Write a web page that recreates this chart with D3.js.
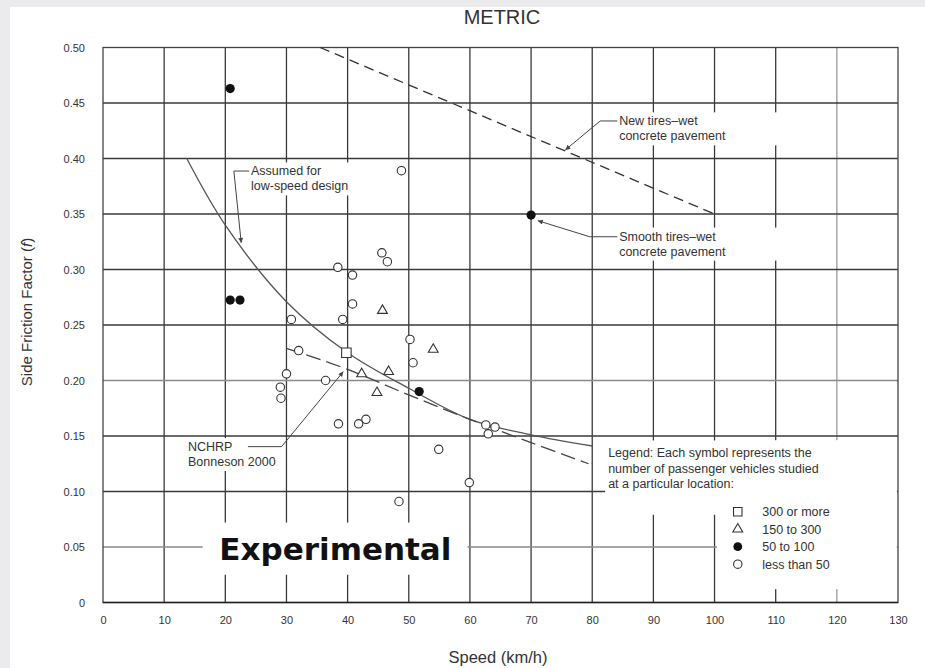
<!DOCTYPE html>
<html>
<head>
<meta charset="utf-8">
<script src="https://cdn.jsdelivr.net/npm/d3@7"></script>
<style>
  body { margin: 0; background: #fff; }
  svg { display: block; font-family: "Liberation Sans", Arial, sans-serif; }
</style>
</head>
<body>
<script>
// values (speed km/h, side friction factor)
var xTicks = [0, 10, 20, 30, 40, 50, 60, 70, 80, 90, 100, 110, 120, 130];
var yTicks = [0, 0.05, 0.10, 0.15, 0.20, 0.25, 0.30, 0.35, 0.40, 0.45, 0.50];

var squarePts = [[39.8, 0.225]];
var trianglePts = [[45.7, 0.263], [54.0, 0.228], [42.3, 0.206], [46.7, 0.208], [44.8, 0.189]];
var filledPts = [[20.8, 0.463], [20.8, 0.2725], [22.4, 0.2725], [51.7, 0.190], [70.0, 0.349]];
var openPts = [
  [48.8, 0.389], [45.6, 0.315], [46.5, 0.307], [38.4, 0.302], [40.8, 0.295], [40.8, 0.269],
  [39.2, 0.255], [30.8, 0.255], [50.2, 0.237], [32.0, 0.227], [50.7, 0.216], [30.0, 0.206],
  [36.4, 0.200], [29.0, 0.194], [29.1, 0.184], [38.5, 0.161], [41.8, 0.161], [43.0, 0.165],
  [62.6, 0.160], [64.1, 0.158], [63.0, 0.152], [54.9, 0.138], [59.9, 0.108], [48.4, 0.091]
];

var lowSpeedV = [13.7, 20, 30, 40, 50, 60, 70, 80];
var lowSpeedF = [0.400, 0.340, 0.271, 0.225, 0.193, 0.165, 0.151, 0.141];
var nchrpV = [30, 40, 50, 60, 70, 79.4];
var nchrpF = [0.229, 0.210, 0.187, 0.165, 0.144, 0.125];
var newTiresV = [35.5, 100];
var newTiresF = [0.50, 0.35];

var legendIntro = ["Legend: Each symbol represents the", "number of passenger vehicles studied", "at a particular location:"];
var legendItems = ["300 or more", "150 to 300", "50 to 100", "less than 50"];

var width = 925;
var height = 668;

var x = d3.scaleLinear().domain([0, 130]).range([103, 898]);
var y = d3.scaleLinear().domain([0, 0.5]).range([602.5, 47.5]);

var notes = [
  {lines: ["Assumed for", "low-speed design"], at: [24.2, 0.3887], pad: [5, 6],
   leader: [[23.9, 0.3887], [21.4, 0.3887], [22.6, 0.324]]},
  {lines: ["New tires\u2013wet", "concrete pavement"], at: [84.4, 0.4338], pad: [20, 58],
   leader: [[84.1, 0.4338], [81.3, 0.4338], [75.6, 0.4077]]},
  {lines: ["Smooth tires\u2013wet", "concrete pavement"], at: [84.4, 0.330], pad: [20, 58],
   leader: [[84.1, 0.3295], [79.6, 0.3295], [71.1, 0.344]]},
  {lines: ["NCHRP", "Bonneson 2000"], at: [13.9, 0.1404], pad: [4, 8],
   leader: [[23.7, 0.1404], [29.2, 0.1404], [39.3, 0.208]]}
];

var svg = d3.select("body").append("svg")
    .attr("width", width)
    .attr("height", height);

svg.append("rect")
    .attr("width", width).attr("height", height)
    .attr("fill", "#ebebee");
svg.append("rect")
    .attr("x", 10).attr("y", 7)
    .attr("width", width - 10).attr("height", height - 7)
    .attr("fill", "#fff");

svg.append("defs").append("marker")
    .attr("id", "arrow")
    .attr("viewBox", "0 0 10 10")
    .attr("refX", 10).attr("refY", 5)
    .attr("markerWidth", 7).attr("markerHeight", 5)
    .attr("orient", "auto")
  .append("path")
    .attr("d", "M0,0L10,5L0,10z")
    .attr("fill", "#444");

var grid = svg.append("g");

grid.selectAll("line.v")
    .data(xTicks.slice(1, -1))
    .enter().append("line")
    .attr("class", "v")
    .attr("x1", d => x(d)).attr("x2", d => x(d))
    .attr("y1", y(0)).attr("y2", y(0.5))
    .attr("stroke", d => d === 120 ? "#9a9a9a" : "#3a3a3a")
    .attr("stroke-width", 1.3);

grid.selectAll("line.h")
    .data(yTicks.slice(1, -1))
    .enter().append("line")
    .attr("class", "h")
    .attr("x1", x(0)).attr("x2", x(130))
    .attr("y1", d => y(d)).attr("y2", d => y(d))
    .attr("stroke", d => (d === 0.05 || d === 0.20) ? "#8a8a8a" : "#3a3a3a")
    .attr("stroke-width", 1.3);

// white patches that cut the grid behind labels and legend
var masks = svg.append("g").attr("fill", "#fff");
masks.append("rect")
    .attr("x", x(82.1)).attr("y", y(0.146))
    .attr("width", x(129.8) - x(82.1)).attr("height", y(0.079) - y(0.146));
masks.append("rect")
    .attr("x", x(100.4)).attr("y", y(0.146))
    .attr("width", x(129.8) - x(100.4)).attr("height", y(0.012) - y(0.146));
masks.append("rect")
    .attr("x", x(16.3)).attr("y", y(0.072))
    .attr("width", x(59.6) - x(16.3)).attr("height", y(0.025) - y(0.072));

var noteG = svg.append("g")
    .attr("font-size", 12.5)
    .attr("fill", "#333");

notes.forEach(n => {
  var g = noteG.append("g");
  var t = g.append("text")
      .attr("x", x(n.at[0]))
      .attr("y", y(n.at[1]));
  t.selectAll("tspan")
      .data(n.lines)
      .enter().append("tspan")
      .attr("x", x(n.at[0]))
      .attr("dy", (d, i) => i === 0 ? "0.35em" : 15)
      .text(d => d);
  var b = t.node().getBBox();
  g.insert("rect", "text")
      .attr("x", b.x - n.pad[0]).attr("y", b.y - 2)
      .attr("width", b.width + n.pad[0] + n.pad[1]).attr("height", b.height + 4)
      .attr("fill", "#fff");
});

svg.append("rect")
    .attr("x", x(0)).attr("y", y(0.5))
    .attr("width", x(130) - x(0)).attr("height", y(0) - y(0.5))
    .attr("fill", "none")
    .attr("stroke", "#444")
    .attr("stroke-width", 1.3);
svg.append("line")
    .attr("x1", x(0)).attr("x2", x(130))
    .attr("y1", y(0)).attr("y2", y(0))
    .attr("stroke", "#222")
    .attr("stroke-width", 1.6);

var line = d3.line()
    .x(d => x(d[0]))
    .y(d => y(d[1]));

svg.append("path")
    .datum(lowSpeedV.map((v, i) => [v, lowSpeedF[i]]))
    .attr("d", line.curve(d3.curveCatmullRom))
    .attr("fill", "none")
    .attr("stroke", "#555")
    .attr("stroke-width", 1.3);

svg.append("path")
    .datum(nchrpV.map((v, i) => [v, nchrpF[i]]))
    .attr("d", line.curve(d3.curveCatmullRom))
    .attr("fill", "none")
    .attr("stroke", "#444")
    .attr("stroke-width", 1.3)
    .attr("stroke-dasharray", "15,6");

svg.append("path")
    .datum(newTiresV.map((v, i) => [v, newTiresF[i]]))
    .attr("d", line.curve(d3.curveLinear))
    .attr("fill", "none")
    .attr("stroke", "#333")
    .attr("stroke-width", 1.3)
    .attr("stroke-dasharray", "10,6");

var leader = d3.line()
    .x(d => x(d[0]))
    .y(d => y(d[1]));

noteG.selectAll("path.leader")
    .data(notes)
    .enter().append("path")
    .attr("class", "leader")
    .attr("d", d => leader(d.leader))
    .attr("fill", "none")
    .attr("stroke", "#444")
    .attr("stroke-width", 1)
    .attr("marker-end", "url(#arrow)");

var square = d3.symbol(d3.symbolSquare, 90);
var triangle = d3.symbol(d3.symbolTriangle, 42);

var marks = svg.append("g");

marks.selectAll("circle.open")
    .data(openPts)
    .enter().append("circle")
    .attr("class", "open")
    .attr("cx", d => x(d[0])).attr("cy", d => y(d[1]))
    .attr("r", 4.2)
    .attr("fill", "#fff")
    .attr("stroke", "#333")
    .attr("stroke-width", 1.1);

marks.selectAll("path.tri")
    .data(trianglePts)
    .enter().append("path")
    .attr("class", "tri")
    .attr("transform", d => `translate(${x(d[0])},${y(d[1])})`)
    .attr("d", triangle)
    .attr("fill", "#fff")
    .attr("stroke", "#333")
    .attr("stroke-width", 1.1);

marks.selectAll("path.sq")
    .data(squarePts)
    .enter().append("path")
    .attr("class", "sq")
    .attr("transform", d => `translate(${x(d[0])},${y(d[1])})`)
    .attr("d", square)
    .attr("fill", "#fff")
    .attr("stroke", "#333")
    .attr("stroke-width", 1.1);

marks.selectAll("circle.filled")
    .data(filledPts)
    .enter().append("circle")
    .attr("class", "filled")
    .attr("cx", d => x(d[0])).attr("cy", d => y(d[1]))
    .attr("r", 4.6)
    .attr("fill", "#111");

// legend
var legend = svg.append("g")
    .attr("font-size", 12.5)
    .attr("fill", "#333");

legend.selectAll("text.intro")
    .data(legendIntro)
    .enter().append("text")
    .attr("class", "intro")
    .attr("x", x(82.6))
    .attr("y", (d, i) => y(0.135) + i * 15.5)
    .attr("dy", "0.35em")
    .text(d => d);

var legendSym = [
  g => g.append("path").attr("d", d3.symbol(d3.symbolSquare, 72)).attr("fill", "#fff").attr("stroke", "#333").attr("stroke-width", 1.1),
  g => g.append("path").attr("d", d3.symbol(d3.symbolTriangle, 42)).attr("fill", "#fff").attr("stroke", "#333").attr("stroke-width", 1.1),
  g => g.append("circle").attr("r", 4.4).attr("fill", "#111"),
  g => g.append("circle").attr("r", 4.2).attr("fill", "#fff").attr("stroke", "#333").attr("stroke-width", 1.1)
];

legendItems.forEach((label, i) => {
  var yy = y(0.0818) + i * 17.5;
  var g = legend.append("g").attr("transform", `translate(${x(103.8)},${yy})`);
  legendSym[i](g);
  legend.append("text")
      .attr("x", x(107.8))
      .attr("y", yy)
      .attr("dy", "0.35em")
      .text(label);
});

// axes
var yAxis = svg.append("g")
    .attr("transform", `translate(${x(0)},0)`)
    .call(d3.axisLeft(y).tickValues(yTicks).tickSize(0).tickPadding(18)
      .tickFormat(d => d === 0 ? "0" : d3.format(".2f")(d)));
var xAxis = svg.append("g")
    .attr("transform", `translate(0,${y(0)})`)
    .call(d3.axisBottom(x).tickValues(xTicks).tickSize(0).tickPadding(14));

[yAxis, xAxis].forEach(a => {
  a.select(".domain").remove();
  a.selectAll("text")
      .attr("font-family", "'Liberation Sans', Arial, sans-serif")
      .attr("font-size", 11)
      .attr("fill", "#333");
});

svg.append("text")
    .attr("x", 502).attr("y", 17)
    .attr("dy", "0.35em")
    .attr("text-anchor", "middle")
    .attr("font-size", 20)
    .attr("fill", "#333")
    .text("METRIC");

svg.append("text")
    .attr("transform", "translate(27,312) rotate(-90)")
    .attr("dy", "0.35em")
    .attr("text-anchor", "middle")
    .attr("font-size", 15)
    .attr("fill", "#333")
    .call(t => {
      t.append("tspan").text("Side Friction Factor (");
      t.append("tspan").attr("font-style", "italic").text("f");
      t.append("tspan").text(")");
    });

svg.append("text")
    .attr("x", 498).attr("y", 657)
    .attr("dy", "0.35em")
    .attr("text-anchor", "middle")
    .attr("font-size", 16.5)
    .attr("fill", "#333")
    .text("Speed (km/h)");

svg.append("text")
    .attr("x", x(38.0)).attr("y", y(0.0485))
    .attr("dy", "0.35em")
    .attr("text-anchor", "middle")
    .attr("font-family", "'DejaVu Sans', sans-serif")
    .attr("font-weight", 700)
    .attr("font-size", 31)
    .attr("fill", "#111")
    .text("Experimental");
</script>
</body>
</html>
